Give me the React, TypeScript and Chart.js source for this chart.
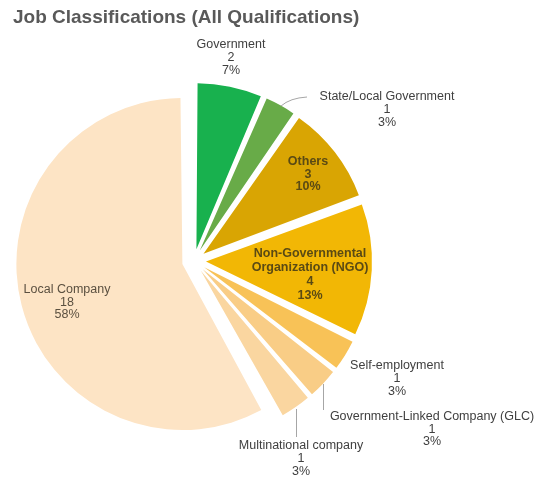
import React, { useEffect, useRef } from "react";
import { Chart, registerables } from "chart.js";

Chart.register(...registerables);

const titleText = "Job Classifications (All Qualifications)";

const categories = [
  "Government",
  "State/Local Government",
  "Others",
  "Non-Governmental\nOrganization (NGO)",
  "Self-employment",
  "Government-Linked Company (GLC)",
  "Multinational company",
  "Local Company",
];
const counts = [2, 1, 3, 4, 1, 1, 1, 18];
const percentLabels = ["7%", "3%", "10%", "13%", "3%", "3%", "3%", "58%"];

const sliceColors = [
  "#18B14E",
  "#68AB48",
  "#D9A503",
  "#F2B705",
  "#F8C257",
  "#F9CD86",
  "#FAD6A0",
  "#FDE4C5",
];

// label placement (layout only)
const labelLayout = [
  { x: 231, y: 45, color: "#404040", bold: false, lh: 13 },
  { x: 387, y: 97, color: "#404040", bold: false, lh: 13 },
  { x: 308, y: 162, color: "#5A4A14", bold: true, lh: 12.5 },
  { x: 310, y: 254, color: "#5A4A14", bold: true, lh: 14 },
  { x: 397, y: 366, color: "#404040", bold: false, lh: 13 },
  { x: 432, y: 417, color: "#404040", bold: false, lh: 12.5 },
  { x: 301, y: 446, color: "#404040", bold: false, lh: 13 },
  { x: 67, y: 290, color: "#5B5040", bold: false, lh: 12.5 },
];

const EXPLODE = 12;
const RADIUS = 166;

// keep every slice at the same visible radius while exploding it by EXPLODE px
const radiusFixPlugin = {
  id: "radiusFix",
  afterDatasetsUpdate(chart: any) {
    const meta = chart.getDatasetMeta(0);
    meta.data.forEach((arc: any) => {
      const circ = arc.endAngle - arc.startAngle;
      const fix = 1 - Math.sin(Math.min(Math.PI, circ));
      arc.outerRadius = RADIUS - EXPLODE * fix;
    });
  },
};

const textPlugin = {
  id: "textPlugin",
  afterDatasetsDraw(chart: any) {
    const ctx = chart.ctx;
    ctx.save();
    ctx.strokeStyle = "#A6A6A6";
    ctx.lineWidth = 1;
    // State/Local leader
    ctx.beginPath();
    ctx.moveTo(281, 106);
    ctx.quadraticCurveTo(290, 98, 307, 97);
    ctx.stroke();
    // GLC leader
    ctx.beginPath();
    ctx.moveTo(323.5, 384);
    ctx.lineTo(323.5, 410);
    ctx.stroke();
    // Multinational leader
    ctx.beginPath();
    ctx.moveTo(296.5, 409);
    ctx.lineTo(296.5, 437);
    ctx.stroke();
    ctx.restore();
  },
  afterDraw(chart: any) {
    const ctx = chart.ctx;
    ctx.save();
    ctx.textBaseline = "middle";
    ctx.textAlign = "left";
    ctx.fillStyle = "#595959";
    ctx.font = 'bold 19px "Liberation Sans", Arial, sans-serif';
    ctx.fillText(titleText, 13, 18);

    ctx.textAlign = "center";
    categories.forEach((cat, i) => {
      const l = labelLayout[i];
      const lines = [...cat.split("\n"), String(counts[i]), percentLabels[i]];
      ctx.fillStyle = l.color;
      ctx.font = `${l.bold ? "bold " : ""}12.5px "Liberation Sans", Arial, sans-serif`;
      lines.forEach((t, k) => ctx.fillText(t, l.x, l.y + k * l.lh));
    });
    ctx.restore();
  },
};

export default function App() {
  const ref = useRef<HTMLCanvasElement | null>(null);
  useEffect(() => {
    if (!ref.current) return;
    const chart = new Chart(ref.current, {
      type: "pie",
      data: {
        labels: categories.map((c) => c.replace("\n", " ")),
        datasets: [
          {
            data: counts,
            backgroundColor: sliceColors,
            borderWidth: 0,
            offset: 4 * EXPLODE,
            hoverOffset: 0,
          } as any,
        ],
      },
      options: {
        responsive: false,
        animation: false,
        events: [],
        radius: RADIUS,
        layout: { padding: { left: 0, right: 148, top: 45, bottom: 0 } },
        plugins: {
          legend: { display: false },
          tooltip: { enabled: false },
          title: { display: false },
        },
      } as any,
      plugins: [radiusFixPlugin, textPlugin],
    });
    return () => chart.destroy();
  }, []);
  return (
    <div style={{ position: "absolute", left: 0, top: 0, width: 536, height: 477, background: "#fff" }}>
      <canvas ref={ref} width={536} height={477} style={{ display: "block" }} />
    </div>
  );
}
